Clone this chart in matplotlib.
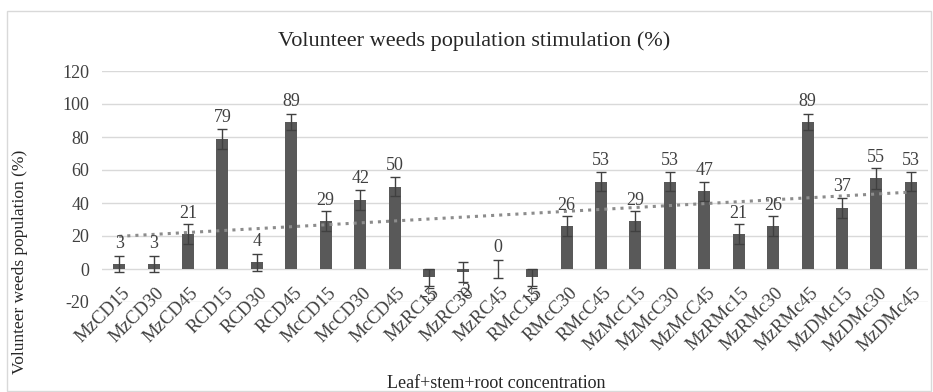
import numpy as np
import matplotlib.pyplot as plt
from matplotlib.patches import Rectangle
from matplotlib.transforms import ScaledTranslation

plt.rcParams['font.family'] = ['Liberation Serif', 'DejaVu Serif']
plt.rcParams['axes.unicode_minus'] = False

treatments = [
    "MzCD15", "MzCD30", "MzCD45", "RCD15", "RCD30", "RCD45",
    "McCD15", "McCD30", "McCD45", "MzRC15", "MzRC30", "MzRC45",
    "RMcC15", "RMcC30", "RMcC45", "MzMcC15", "MzMcC30", "MzMcC45",
    "MzRMc15", "MzRMc30", "MzRMc45", "MzDMc15", "MzDMc30", "MzDMc45",
]
stimulation = [3, 3, 21, 79, 4, 89, 29, 42, 50, -5, -2, 0,
               -5, 26, 53, 29, 53, 47, 21, 26, 89, 37, 55, 53]
errors = [5, 5, 6, 6, 5, 5, 6, 6, 6, 5, 6, 5.5,
          5, 6, 6, 6, 6, 6, 6, 6, 5, 6, 6.5, 6]

W, H = 933, 392
fig = plt.figure(figsize=(W / 100, H / 100), dpi=100)

# light outer chart border
fig.patches.append(Rectangle((7 / W, 1 / H), 924 / W, 380 / H, transform=fig.transFigure,
                             fill=False, edgecolor='#d9d9d9', linewidth=1))

ax = fig.add_axes([102 / W, (H - 302) / H, (928 - 102) / W, (302 - 71) / H])
x = np.arange(len(treatments))

ax.bar(x, stimulation, width=0.35, color='#595959', zorder=3)
ax.errorbar(x, stimulation, yerr=errors, fmt='none', ecolor='#404040',
            elinewidth=1, capsize=3.5, capthick=1, zorder=4)

# linear trend over all treatments
slope, intercept = np.polyfit(x, stimulation, 1)
ax.plot(x, slope * x + intercept, linestyle=':', color='#8c8c8c', linewidth=2.2, zorder=5)

for xi, v in zip(x, stimulation):
    if v >= 0:
        ax.annotate(str(v), (xi, v), xytext=(0, 9), textcoords='offset points',
                    ha='center', va='bottom', fontsize=13, color='#404040', zorder=6)
    else:
        ax.annotate(str(v), (xi, v), xytext=(0, -8), textcoords='offset points',
                    ha='center', va='top', fontsize=13, color='#404040', zorder=6)

ax.set_xlim(-0.5, len(treatments) - 0.5)
ax.set_ylim(-20, 120)
ax.set_yticks(range(-20, 121, 20))
ax.grid(axis='y', color='#d9d9d9', linewidth=1, zorder=0)
ax.set_axisbelow(True)
for s in ax.spines.values():
    s.set_visible(False)
ax.tick_params(axis='both', length=0, labelsize=13, labelcolor='#404040')
ax.tick_params(axis='y', pad=9)
ax.set_xticks(x)
ax.set_xticklabels(treatments, rotation=45, ha='right', va='top',
                   rotation_mode='anchor', fontsize=13.5)
ax.tick_params(axis='x', pad=-4)
shift = ScaledTranslation(2 / 100, 12 / 100, fig.dpi_scale_trans)
for lbl in ax.get_xticklabels():
    lbl.set_transform(lbl.get_transform() + shift)

fig.text(474 / W, (H - 41) / H, "Volunteer weeds population stimulation (%)",
         ha='center', va='center', fontsize=16, color='#262626')
fig.text(496 / W, (H - 383) / H, "Leaf+stem+root concentration",
         ha='center', va='center', fontsize=13, color='#262626')
fig.text(20 / W, (H - 262) / H, "Volunteer weeds population (%)",
         ha='center', va='center', rotation=90, fontsize=12.5, color='#262626')

fig.savefig('out.png', dpi=100)
